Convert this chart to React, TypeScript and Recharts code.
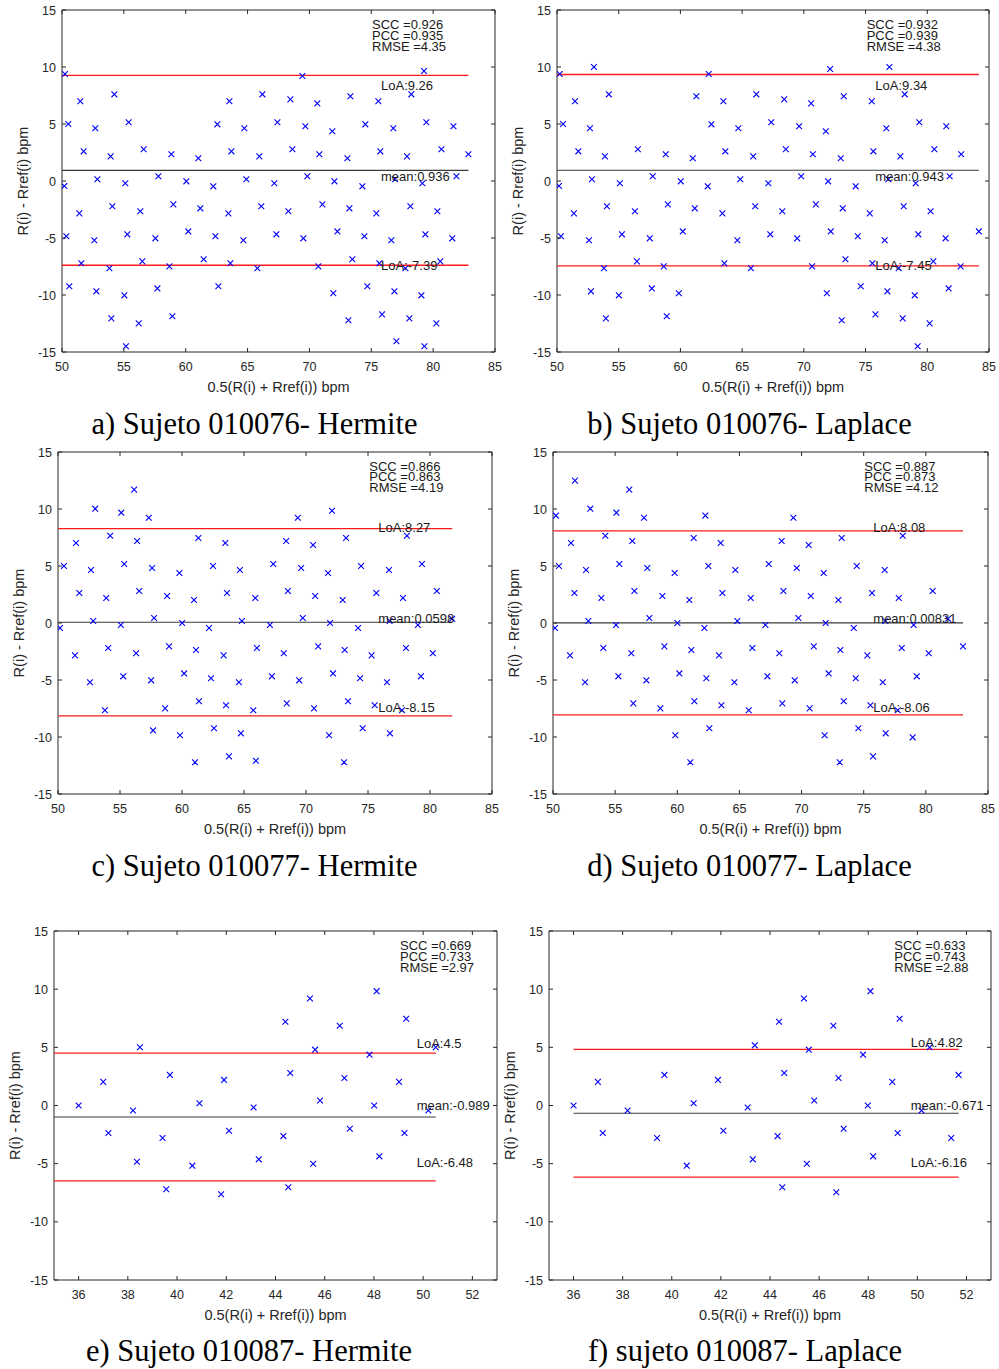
import React from 'react';
import { ScatterChart, Scatter, XAxis, YAxis } from 'recharts';

type P = [number, number];

// ---------- DATA ----------
const aPoints: P[] = [
  [50.24, 9.39], [69.43, 9.21], [79.26, 9.65],
  [51.48, 6.99], [54.23, 7.6], [63.53, 6.99], [66.2, 7.6], [68.46, 7.16], [70.64, 6.81], [73.31, 7.43], [75.57, 6.99], [78.24, 7.6],
  [50.51, 5.0], [52.69, 4.62], [55.39, 5.15], [62.56, 4.97], [64.74, 4.62], [67.41, 5.15], [69.67, 4.8], [71.85, 4.36], [74.52, 4.97], [76.78, 4.62], [79.45, 5.15], [81.64, 4.8],
  [51.75, 2.6], [53.93, 2.16], [56.6, 2.78], [58.84, 2.34], [61.02, 1.99], [63.69, 2.6], [65.95, 2.16], [68.62, 2.78], [70.8, 2.34], [73.07, 1.99], [75.73, 2.6], [77.89, 2.16], [80.67, 2.78], [82.85, 2.34],
  [50.19, -0.44], [52.86, 0.15], [55.12, -0.2], [57.79, 0.41], [60.05, -0.03], [62.23, -0.47], [64.9, 0.15], [67.16, -0.2], [69.83, 0.41], [72.02, -0.03], [74.28, -0.47], [76.92, 0.15], [79.13, -0.2], [81.88, 0.41],
  [51.4, -2.84], [54.07, -2.22], [56.33, -2.66], [59.0, -2.05], [61.18, -2.4], [63.45, -2.84], [66.11, -2.22], [68.3, -2.66], [71.05, -2.05], [73.23, -2.4], [75.41, -2.84], [78.16, -2.22], [80.34, -2.66],
  [50.35, -4.85], [52.61, -5.2], [55.28, -4.68], [57.55, -5.03], [60.21, -4.42], [62.4, -4.85], [64.66, -5.2], [67.33, -4.68], [69.51, -5.03], [72.26, -4.42], [74.44, -4.85], [76.62, -5.2], [79.37, -4.68], [81.55, -5.03],
  [51.56, -7.22], [53.83, -7.66], [56.49, -7.05], [58.68, -7.49], [61.45, -6.87], [63.61, -7.22], [65.79, -7.66], [70.72, -7.49], [73.47, -6.87], [75.65, -7.22], [77.76, -7.66], [80.58, -7.05],
  [50.59, -9.24], [52.78, -9.68], [55.04, -10.03], [57.71, -9.42], [62.64, -9.24], [71.93, -9.85], [74.68, -9.24], [76.87, -9.68], [79.05, -10.03],
  [53.99, -12.05], [56.2, -12.49], [58.92, -11.87], [73.15, -12.22], [75.87, -11.7], [78.08, -12.05], [80.26, -12.49],
  [55.17, -14.5], [77.03, -14.06], [79.29, -14.5],
];

const bPoints: P[] = [
  [50.22, 9.39], [52.99, 10.0], [62.29, 9.39], [72.13, 9.82], [76.93, 10.0],
  [51.46, 6.99], [54.2, 7.6], [61.29, 7.43], [63.48, 6.99], [66.15, 7.6], [68.41, 7.16], [70.59, 6.81], [73.23, 7.43], [75.5, 6.99], [78.17, 7.6],
  [50.49, 5.0], [52.67, 4.62], [62.51, 4.97], [64.69, 4.62], [67.36, 5.15], [69.62, 4.8], [71.78, 4.36], [76.68, 4.62], [79.35, 5.15], [81.54, 4.8],
  [51.73, 2.6], [53.88, 2.16], [56.55, 2.78], [58.81, 2.34], [61.0, 1.99], [63.64, 2.6], [65.9, 2.16], [68.54, 2.78], [70.73, 2.34], [72.99, 1.99], [75.63, 2.6], [77.82, 2.16], [80.57, 2.78], [82.75, 2.34],
  [50.16, -0.44], [52.83, 0.15], [55.09, -0.2], [57.76, 0.41], [60.03, -0.03], [62.21, -0.47], [64.85, 0.15], [67.12, -0.2], [69.78, 0.41], [71.97, -0.03], [74.2, -0.47], [76.85, 0.15], [79.06, -0.2], [81.81, 0.41],
  [51.37, -2.84], [54.04, -2.22], [56.31, -2.66], [58.98, -2.05], [61.16, -2.4], [63.4, -2.84], [66.06, -2.22], [68.25, -2.66], [70.97, -2.05], [73.15, -2.4], [75.34, -2.84], [78.09, -2.22], [80.27, -2.66],
  [50.32, -4.85], [52.59, -5.2], [55.26, -4.68], [57.52, -5.03], [60.19, -4.42], [64.61, -5.2], [67.28, -4.68], [69.46, -5.03], [72.18, -4.42], [74.37, -4.85], [76.55, -5.2], [79.27, -4.68], [81.48, -5.03], [84.18, -4.42],
  [53.8, -7.66], [56.47, -7.05], [58.65, -7.49], [63.56, -7.22], [65.71, -7.66], [70.67, -7.49], [73.37, -6.87], [75.55, -7.22], [77.68, -7.66], [80.49, -7.05], [82.7, -7.49],
  [52.75, -9.68], [55.01, -10.03], [57.68, -9.42], [59.87, -9.85], [71.86, -9.85], [74.61, -9.24], [76.77, -9.68], [78.98, -10.03], [81.73, -9.42],
  [53.96, -12.05], [58.89, -11.87], [73.07, -12.22], [75.8, -11.7], [78.01, -12.05], [80.19, -12.49],
  [79.22, -14.5],
];

const cPoints: P[] = [
  [56.14, 11.7], [53.0, 10.03], [55.1, 9.68], [57.32, 9.24], [69.34, 9.24], [72.1, 9.85],
  [51.45, 7.02], [54.21, 7.66], [56.38, 7.19], [61.32, 7.46], [63.49, 7.02], [68.4, 7.19], [70.57, 6.84], [73.23, 7.46], [78.14, 7.66],
  [50.48, 5.0], [52.66, 4.65], [55.34, 5.18], [57.59, 4.82], [59.79, 4.39], [62.5, 5.0], [64.67, 4.65], [67.36, 5.18], [69.61, 4.82], [71.78, 4.39], [74.44, 5.0], [76.69, 4.65], [79.35, 5.18],
  [51.72, 2.63], [53.89, 2.19], [56.55, 2.81], [58.8, 2.37], [60.97, 2.02], [63.63, 2.63], [65.91, 2.19], [68.54, 2.81], [70.74, 2.37], [72.96, 2.02], [75.67, 2.63], [77.82, 2.19], [80.55, 2.81],
  [50.16, -0.44], [52.84, 0.18], [55.07, -0.18], [57.75, 0.44], [60.01, 0.0], [62.18, -0.44], [64.83, 0.18], [67.09, -0.18], [69.74, 0.44], [71.94, 0.0], [74.2, -0.44], [76.74, 0.18], [79.02, -0.18], [81.79, 0.38],
  [51.37, -2.84], [54.05, -2.19], [56.3, -2.66], [58.96, -2.05], [61.13, -2.37], [63.36, -2.84], [66.04, -2.19], [68.21, -2.66], [70.98, -2.05], [73.12, -2.37], [75.29, -2.84], [78.06, -2.19], [80.23, -2.66],
  [52.58, -5.2], [55.26, -4.68], [57.51, -5.03], [60.17, -4.42], [62.34, -4.85], [64.59, -5.2], [67.25, -4.68], [69.45, -5.03], [72.18, -4.42], [74.36, -4.85], [76.53, -5.2], [79.27, -4.68],
  [53.78, -7.66], [58.64, -7.49], [61.37, -6.87], [63.55, -7.22], [65.75, -7.66], [68.45, -7.05], [70.65, -7.49], [73.39, -6.87], [75.54, -7.22], [77.74, -7.66],
  [57.67, -9.42], [59.84, -9.85], [62.58, -9.24], [64.75, -9.68], [71.86, -9.85], [74.57, -9.24], [76.77, -9.68],
  [61.05, -12.22], [63.79, -11.7], [65.96, -12.08], [73.07, -12.22],
];

const dPoints: P[] = [
  [51.77, 12.49], [56.14, 11.7], [50.24, 9.42], [53.0, 10.03], [55.1, 9.68], [57.32, 9.24], [62.26, 9.42], [69.34, 9.24],
  [51.45, 7.02], [54.21, 7.66], [56.38, 7.19], [61.32, 7.46], [63.49, 7.02], [68.4, 7.19], [70.57, 6.84], [73.23, 7.46], [78.14, 7.66],
  [50.48, 5.0], [52.66, 4.65], [55.34, 5.18], [57.59, 4.82], [59.79, 4.39], [62.5, 5.0], [64.67, 4.65], [67.36, 5.18], [69.61, 4.82], [71.78, 4.39], [74.44, 5.0], [76.69, 4.65],
  [51.72, 2.63], [53.89, 2.19], [56.55, 2.81], [58.8, 2.37], [60.97, 2.02], [63.63, 2.63], [65.91, 2.19], [68.54, 2.81], [70.74, 2.37], [72.96, 2.02], [75.67, 2.63], [77.82, 2.19], [80.55, 2.81],
  [50.16, -0.44], [52.84, 0.18], [55.07, -0.18], [57.75, 0.44], [60.01, 0.0], [62.18, -0.44], [64.83, 0.18], [67.09, -0.18], [69.74, 0.44], [71.94, 0.0], [74.2, -0.44], [76.74, 0.18], [79.02, -0.18], [81.79, 0.38],
  [51.37, -2.84], [54.05, -2.19], [56.3, -2.66], [58.96, -2.05], [61.13, -2.37], [63.36, -2.84], [66.04, -2.19], [68.21, -2.66], [70.98, -2.05], [73.12, -2.37], [75.29, -2.84], [78.06, -2.19], [80.23, -2.66], [82.99, -2.05],
  [52.58, -5.2], [55.26, -4.68], [57.51, -5.03], [60.17, -4.42], [62.34, -4.85], [64.59, -5.2], [67.25, -4.68], [69.45, -5.03], [72.18, -4.42], [74.36, -4.85], [76.53, -5.2], [79.27, -4.68],
  [56.46, -7.05], [58.64, -7.49], [61.37, -6.87], [63.55, -7.22], [65.75, -7.66], [68.45, -7.05], [70.65, -7.49], [73.39, -6.87], [75.54, -7.22], [77.74, -7.66],
  [59.84, -9.85], [62.58, -9.24], [71.86, -9.85], [74.57, -9.24], [76.77, -9.68], [78.94, -10.03],
  [61.05, -12.22], [73.07, -12.22], [75.75, -11.7],
];

const ePoints: P[] = [
  [36.0, 0.0], [37.0, 2.03], [37.21, -2.37], [38.21, -0.43], [38.37, -4.83], [38.49, 5.0], [39.41, -2.8], [39.56, -7.2],
  [39.71, 2.63], [40.62, -5.17], [40.91, 0.2], [41.79, -7.63], [41.91, 2.2], [42.11, -2.17], [43.11, -0.17], [43.32, -4.63],
  [44.32, -2.63], [44.4, 7.2], [44.52, -7.03], [44.6, 2.8], [45.4, 9.2], [45.53, -5.0], [45.61, 4.8], [45.81, 0.43],
  [46.61, 6.86], [46.8, 2.37], [47.02, -2.0], [47.82, 4.37], [48.01, 0.0], [48.11, 9.83], [48.22, -4.37], [49.02, 2.03],
  [49.24, -2.37], [49.31, 7.46], [50.21, -0.43], [50.51, 5.0],
];

const fPoints: P[] = [
  [36.0, 0.0], [36.99, 2.03], [37.19, -2.37], [38.2, -0.43], [39.4, -2.8], [39.7, 2.63], [40.61, -5.17], [40.89, 0.2],
  [41.88, 2.2], [42.1, -2.17], [43.09, -0.17], [43.3, -4.63], [43.38, 5.17], [44.31, -2.63], [44.37, 7.2], [44.5, -7.03],
  [44.58, 2.8], [45.38, 9.2], [45.5, -5.0], [45.58, 4.8], [45.8, 0.43], [46.58, 6.86], [46.7, -7.46], [46.79, 2.37],
  [47.0, -2.0], [47.79, 4.37], [47.98, 0.0], [48.09, 9.83], [48.2, -4.37], [48.98, 2.03], [49.2, -2.37], [49.28, 7.46],
  [50.17, -0.43], [50.5, 5.0], [51.38, -2.8], [51.68, 2.63],
];

// [upper LoA, mean, lower LoA]
const aLines = [9.26, 0.936, -7.39];
const bLines = [9.34, 0.943, -7.45];
const cLines = [8.27, 0.0598, -8.15];
const dLines = [8.08, 0.00831, -8.06];
const eLines = [4.5, -0.989, -6.48];
const fLines = [4.82, -0.671, -6.16];

// x-extent of the LoA / mean lines
const aSpan = [50, 82.85];
const bSpan = [50, 84.18];
const cSpan = [50, 81.79];
const dSpan = [50, 82.99];
const eSpan = [35, 50.51];
const fSpan = [36, 51.68];

const aStats = ['SCC =0.926', 'PCC =0.935', 'RMSE =4.35'];
const bStats = ['SCC =0.932', 'PCC =0.939', 'RMSE =4.38'];
const cStats = ['SCC =0.866', 'PCC =0.863', 'RMSE =4.19'];
const dStats = ['SCC =0.887', 'PCC =0.873', 'RMSE =4.12'];
const eStats = ['SCC =0.669', 'PCC =0.733', 'RMSE =2.97'];
const fStats = ['SCC =0.633', 'PCC =0.743', 'RMSE =2.88'];

const aLabels = ['LoA:9.26', 'mean:0.936', 'LoA:-7.39'];
const bLabels = ['LoA:9.34', 'mean:0.943', 'LoA:-7.45'];
const cLabels = ['LoA:8.27', 'mean:0.0598', 'LoA:-8.15'];
const dLabels = ['LoA:8.08', 'mean:0.00831', 'LoA:-8.06'];
const eLabels = ['LoA:4.5', 'mean:-0.989', 'LoA:-6.48'];
const fLabels = ['LoA:4.82', 'mean:-0.671', 'LoA:-6.16'];

const captions = [
  'a) Sujeto 010076- Hermite',
  'b) Sujeto 010076- Laplace',
  'c) Sujeto 010077- Hermite',
  'd) Sujeto 010077- Laplace',
  'e) Sujeto 010087- Hermite',
  'f) sujeto 010087- Laplace',
];

const yTicks = [-15, -10, -5, 0, 5, 10, 15];
const xTicksHigh = [50, 55, 60, 65, 70, 75, 80, 85];
const xTicksLow = [36, 38, 40, 42, 44, 46, 48, 50, 52];
const xDomainHigh = [50, 85];
const xDomainLow = [35, 53];

const xLabel = '0.5(R(i) + Rref(i)) bpm';
const yLabel = 'R(i) - Rref(i) bpm';

// ---------- LAYOUT ----------
const AX = '#262626';
const RED = '#ff1a1a';
const MEAN = '#3a3a3a';
const BLUE = '#0000ff';
const SANS = '"Liberation Sans", Arial, Helvetica, sans-serif';
const SERIF = '"Liberation Serif", "Times New Roman", serif';
const ML = 50, MR = 10, MT = 10, MB = 50;

const layout = [
  { frame: [62, 10, 495, 352], statX: 372, statY: [24.3, 35.3, 46.3], labX: 381, labY: [85.7, 176.7, 265], cap: [254.5, 424] },
  { frame: [557, 10, 989, 352], statX: 866.7, statY: [24.3, 35.3, 46.3], labX: 875.3, labY: [85.3, 176.7, 265.7], cap: [749.5, 424] },
  { frame: [58, 452, 492, 794], statX: 369.3, statY: [466, 476.7, 487.7], labX: 378.3, labY: [527, 618.3, 707], cap: [254.5, 866] },
  { frame: [553, 452, 988, 794], statX: 864.3, statY: [466, 476.7, 487.7], labX: 873.3, labY: [527, 618.3, 707], cap: [749.5, 866] },
  { frame: [54, 931, 497, 1280], statX: 400, statY: [945, 956, 967], labX: 416.7, labY: [1043.3, 1105.3, 1162.7], cap: [249, 1351] },
  { frame: [549, 931, 991, 1280], statX: 894.3, statY: [945, 956, 967], labX: 910.7, labY: [1042.7, 1105.3, 1162.7], cap: [745, 1351] },
];

const panels = [
  { points: aPoints, lines: aLines, span: aSpan, stats: aStats, labels: aLabels, dom: xDomainHigh, ticks: xTicksHigh },
  { points: bPoints, lines: bLines, span: bSpan, stats: bStats, labels: bLabels, dom: xDomainHigh, ticks: xTicksHigh },
  { points: cPoints, lines: cLines, span: cSpan, stats: cStats, labels: cLabels, dom: xDomainHigh, ticks: xTicksHigh },
  { points: dPoints, lines: dLines, span: dSpan, stats: dStats, labels: dLabels, dom: xDomainHigh, ticks: xTicksHigh },
  { points: ePoints, lines: eLines, span: eSpan, stats: eStats, labels: eLabels, dom: xDomainLow, ticks: xTicksLow },
  { points: fPoints, lines: fLines, span: fSpan, stats: fStats, labels: fLabels, dom: xDomainLow, ticks: xTicksLow },
];

// ---------- RENDER HELPERS ----------
const XMark = (props: any) => {
  const { cx, cy } = props;
  if (cx == null || cy == null) return null;
  const r = 2.9;
  return (
    <path
      d={`M${cx - r},${cy - r}L${cx + r},${cy + r}M${cx - r},${cy + r}L${cx + r},${cy - r}`}
      stroke={BLUE}
      strokeWidth={1.1}
      fill="none"
    />
  );
};
const NoMark = () => <g />;

const bottomTick = (p: any) => (
  <g>
    <line x1={p.x} x2={p.x} y1={p.y} y2={p.y - 4} stroke={AX} strokeWidth={1} />
    <text x={p.x} y={p.y + 19} textAnchor="middle" fontSize={12.5} fontFamily={SANS} fill={AX}>
      {p.payload.value}
    </text>
  </g>
);
const topTick = (p: any) => (
  <line x1={p.x} x2={p.x} y1={p.y} y2={p.y + 4} stroke={AX} strokeWidth={1} />
);
const leftTick = (p: any) => (
  <g>
    <line x1={p.x} x2={p.x + 4} y1={p.y} y2={p.y} stroke={AX} strokeWidth={1} />
    <text x={p.x - 6} y={p.y + 4.5} textAnchor="end" fontSize={12.5} fontFamily={SANS} fill={AX}>
      {p.payload.value}
    </text>
  </g>
);
const rightTick = (p: any) => (
  <line x1={p.x} x2={p.x - 4} y1={p.y} y2={p.y} stroke={AX} strokeWidth={1} />
);

function Panel({ idx }: { idx: number }) {
  const cfg = panels[idx];
  const [x0, y0, x1, y1] = layout[idx].frame;
  const w = x1 - x0;
  const h = y1 - y0;
  const data = cfg.points.map(([x, y]) => ({ x, y }));
  const lineData = cfg.lines.map((v) => [
    { x: cfg.span[0], y: v },
    { x: cfg.span[1], y: v },
  ]);
  return (
    <div style={{ position: 'absolute', left: x0 - ML, top: y0 - MT }}>
      <ScatterChart width={w + ML + MR} height={h + MT + MB} margin={{ top: MT - 1, right: MR - 1, bottom: 0, left: 0 }}>
        <XAxis xAxisId="b" type="number" dataKey="x" domain={cfg.dom} ticks={cfg.ticks} interval={0}
          height={MB} tickSize={0} tickMargin={0} tickLine={false} axisLine={{ stroke: AX }} tick={bottomTick} allowDataOverflow />
        <XAxis xAxisId="t" orientation="top" type="number" dataKey="x" domain={cfg.dom} ticks={cfg.ticks} interval={0}
          height={1} tickSize={0} tickMargin={0} tickLine={false} axisLine={{ stroke: AX }} tick={topTick} allowDataOverflow />
        <YAxis yAxisId="l" type="number" dataKey="y" domain={[-15, 15]} ticks={yTicks} interval={0}
          width={ML} tickSize={0} tickMargin={0} tickLine={false} axisLine={{ stroke: AX }} tick={leftTick} allowDataOverflow />
        <YAxis yAxisId="r" orientation="right" type="number" dataKey="y" domain={[-15, 15]} ticks={yTicks} interval={0}
          width={1} tickSize={0} tickMargin={0} tickLine={false} axisLine={{ stroke: AX }} tick={rightTick} allowDataOverflow />
        {lineData.map((ld, i) => (
          <Scatter
            key={'line' + i}
            xAxisId="b"
            yAxisId="l"
            data={ld}
            line={{ stroke: i === 1 ? MEAN : RED, strokeWidth: i === 1 ? 1.1 : 1.3 }}
            shape={<NoMark />}
            isAnimationActive={false}
          />
        ))}
        <Scatter xAxisId="b" yAxisId="l" data={data} shape={<XMark />} isAnimationActive={false} />
      </ScatterChart>
    </div>
  );
}

export default function App() {
  return (
    <div style={{ position: 'absolute', left: 0, top: 0, width: 999, height: 1369, background: '#fff', overflow: 'hidden' }}>
      {panels.map((_, i) => (
        <Panel key={i} idx={i} />
      ))}
      <svg width={999} height={1369} style={{ position: 'absolute', left: 0, top: 0, pointerEvents: 'none' }}>
        {layout.map((L, i) => {
          const [x0, y0, x1, y1] = L.frame;
          const p = panels[i];
          return (
            <g key={i}>
              {p.stats.map((s, j) => (
                <text key={'s' + j} x={L.statX} y={L.statY[j]} dominantBaseline="central" fontSize={13} fontFamily={SANS} fill="#1a1a1a">
                  {s}
                </text>
              ))}
              {p.labels.map((s, j) => (
                <text key={'l' + j} x={L.labX} y={L.labY[j]} dominantBaseline="central" fontSize={13} fontFamily={SANS} fill="#1a1a1a">
                  {s}
                </text>
              ))}
              <text x={(x0 + x1) / 2} y={y1 + 35} dominantBaseline="central" textAnchor="middle" fontSize={14.5} fontFamily={SANS} fill={AX}>
                {xLabel}
              </text>
              <text
                x={x0 - 39}
                y={(y0 + y1) / 2}
                dominantBaseline="central"
                textAnchor="middle"
                fontSize={14.5}
                fontFamily={SANS}
                fill={AX}
                transform={`rotate(-90 ${x0 - 39} ${(y0 + y1) / 2})`}
              >
                {yLabel}
              </text>
              <text x={L.cap[0]} y={L.cap[1]} dominantBaseline="central" textAnchor="middle" fontSize={30.5} fontFamily={SERIF} fill="#000">
                {captions[i]}
              </text>
            </g>
          );
        })}
      </svg>
    </div>
  );
}
